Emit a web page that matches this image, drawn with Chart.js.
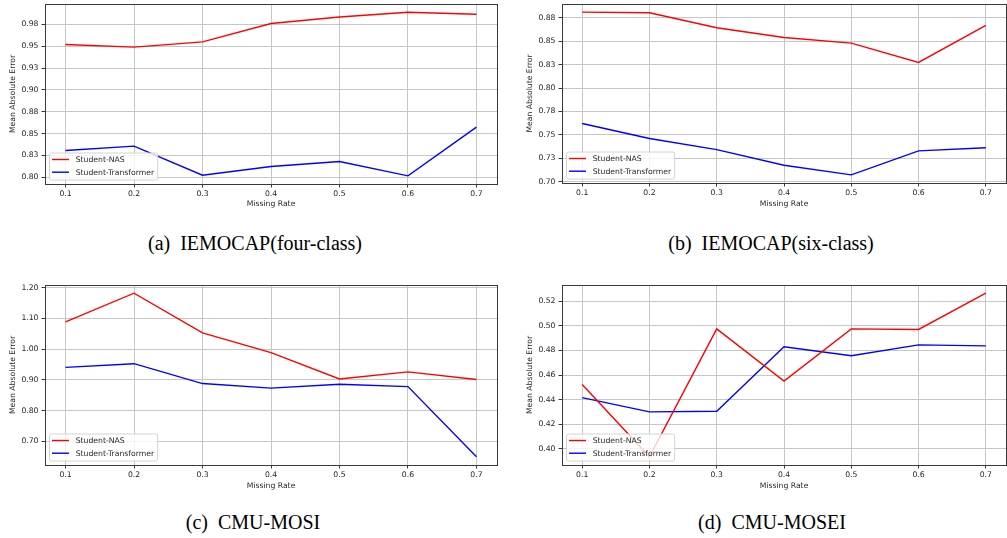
<!DOCTYPE html>
<html>
<head>
<meta charset="utf-8">
<script src="https://cdn.jsdelivr.net/npm/chart.js@4.4.0/dist/chart.umd.min.js"></script>
<style>
  html, body { margin: 0; padding: 0; background: #fff; }
  body { width: 1007px; height: 538px; position: relative; overflow: hidden; }
  canvas { position: absolute; }
  .cap { position: absolute; font-family: 'Liberation Serif', 'Times New Roman', serif; font-size: 20px;
         color: #000; white-space: pre; transform: translate(-50%, -50%); line-height: 1; }
</style>
</head>
<body>
<canvas id="ca"></canvas>
<canvas id="cb"></canvas>
<canvas id="cc"></canvas>
<canvas id="cd"></canvas>
<div class="cap" style="left:255px; top:243px;">(a)  IEMOCAP(four-class)</div>
<div class="cap" style="left:771px; top:243px;">(b)  IEMOCAP(six-class)</div>
<div class="cap" style="left:253px; top:522px;">(c)  CMU-MOSI</div>
<div class="cap" style="left:772px; top:522px;">(d)  CMU-MOSEI</div>
<script>
// ---------- data ----------
const missingRates = [0.1, 0.2, 0.3, 0.4, 0.5, 0.6, 0.7];
const seriesNames = ['Student-NAS', 'Student-Transformer'];

const iemocap4NAS = [0.952, 0.949, 0.955, 0.976, 0.9835, 0.989, 0.9866];
const iemocap4Trans = [0.8306, 0.8356, 0.8023, 0.8123, 0.818, 0.8016, 0.8573];

const iemocap6NAS = [0.881, 0.8803, 0.8644, 0.854, 0.848, 0.8273, 0.8669];
const iemocap6Trans = [0.7622, 0.7462, 0.7343, 0.7176, 0.7074, 0.733, 0.7364];

const mosiNAS = [1.089, 1.182, 1.053, 0.9886, 0.903, 0.926, 0.901];
const mosiTrans = [0.9405, 0.9526, 0.888, 0.873, 0.886, 0.878, 0.6497];

const moseiNAS = [0.4522, 0.3935, 0.4975, 0.455, 0.4975, 0.497, 0.5265];
const moseiTrans = [0.4416, 0.43, 0.4305, 0.483, 0.4757, 0.4845, 0.4837];

// tick values and labels
const xTickVals = [0.1, 0.2, 0.3, 0.4, 0.5, 0.6, 0.7];
const xTickLabels = ['0.1', '0.2', '0.3', '0.4', '0.5', '0.6', '0.7'];

const aTickVals = [0.800, 0.825, 0.850, 0.875, 0.900, 0.925, 0.950, 0.975];
const aTickLabels = ['0.80', '0.83', '0.85', '0.88', '0.90', '0.93', '0.95', '0.98'];
const bTickVals = [0.700, 0.725, 0.750, 0.775, 0.800, 0.825, 0.850, 0.875];
const bTickLabels = ['0.70', '0.73', '0.75', '0.78', '0.80', '0.83', '0.85', '0.88'];
const cTickVals = [0.7, 0.8, 0.9, 1.0, 1.1, 1.2];
const cTickLabels = ['0.70', '0.80', '0.90', '1.00', '1.10', '1.20'];
const dTickVals = [0.40, 0.42, 0.44, 0.46, 0.48, 0.50, 0.52];
const dTickLabels = ['0.40', '0.42', '0.44', '0.46', '0.48', '0.50', '0.52'];

// ---------- layout (page coordinates) ----------
const panels = [
  { id: 'ca', canvas: {x: 0,   y: 0,   w: 503, h: 215}, plot: {l: 45,  t: 4,   r: 497,  b: 184}, yTitleX: 13.3, xTitleY: 204.3,
    nas: iemocap4NAS, trans: iemocap4Trans, yVals: aTickVals, yLabels: aTickLabels },
  { id: 'cb', canvas: {x: 503, y: 0,   w: 504, h: 215}, plot: {l: 562, t: 4,   r: 1006, b: 183}, yTitleX: 530,  xTitleY: 204.3,
    nas: iemocap6NAS, trans: iemocap6Trans, yVals: bTickVals, yLabels: bTickLabels },
  { id: 'cc', canvas: {x: 0,   y: 270, w: 503, h: 222}, plot: {l: 45,  t: 285, r: 497,  b: 465}, yTitleX: 13.3, xTitleY: 486.5,
    nas: mosiNAS, trans: mosiTrans, yVals: cTickVals, yLabels: cTickLabels },
  { id: 'cd', canvas: {x: 503, y: 270, w: 504, h: 222}, plot: {l: 562, t: 285, r: 1006, b: 465}, yTitleX: 530,  xTitleY: 486.5,
    nas: moseiNAS, trans: moseiTrans, yVals: dTickVals, yLabels: dTickLabels },
];

const FONT = 'DejaVu Sans';
const FSIZE = 7.7;
const TEXT = '#262626';
const FRAME = '#3a3a3a';
Chart.defaults.font.family = FONT;
Chart.defaults.font.size = FSIZE;
Chart.defaults.color = TEXT;

const al = v => Math.round(v - 0.5) + 0.5;

const frameAndLegend = {
  id: 'frameAndLegend',
  afterDatasetsDraw(chart) {
    const ctx = chart.ctx;
    const a = chart.chartArea;
    // frame (aligned like Chart.js borders)
    ctx.save();
    ctx.strokeStyle = FRAME;
    ctx.lineWidth = 1;
    const L = al(a.left), T = al(a.top), R = al(a.right), B = al(a.bottom);
    ctx.strokeRect(L, T, R - L, B - T);
    ctx.restore();
    // legend
    ctx.save();
    ctx.font = FSIZE + 'px "' + FONT + '"';
    const ds = chart.data.datasets;
    let tw = 0;
    ds.forEach(d => { tw = Math.max(tw, ctx.measureText(d.label).width); });
    const bx = a.left + 4.5, bh = 27, bw = 2.5 + 17 + 6.7 + tw + 3.5;
    const by = a.bottom - 4 - bh;
    ctx.globalAlpha = 0.8;
    ctx.fillStyle = '#ffffff';
    ctx.beginPath();
    ctx.roundRect(bx, by, bw, bh, 2);
    ctx.fill();
    ctx.globalAlpha = 1;
    ctx.strokeStyle = '#d4d4d4';
    ctx.lineWidth = 1;
    ctx.stroke();
    ds.forEach((d, i) => {
      const y = by + 6.5 + i * 12.7;
      ctx.strokeStyle = d.borderColor;
      ctx.lineWidth = 1.4;
      ctx.beginPath();
      ctx.moveTo(bx + 2.5, y);
      ctx.lineTo(bx + 19.5, y);
      ctx.stroke();
      ctx.fillStyle = TEXT;
      ctx.textBaseline = 'middle';
      ctx.textAlign = 'left';
      ctx.fillText(d.label, bx + 26.2, y + 0.5);
    });
    ctx.restore();
  }
};

function limits(arrs) {
  const all = [].concat(...arrs);
  const mn = Math.min(...all), mx = Math.max(...all);
  const m = (mx - mn) * 0.05;
  return [mn - m, mx + m];
}

panels.forEach(p => {
  const cv = document.getElementById(p.id);
  cv.width = p.canvas.w; cv.height = p.canvas.h;
  cv.style.left = p.canvas.x + 'px'; cv.style.top = p.canvas.y + 'px';
  cv.style.width = p.canvas.w + 'px'; cv.style.height = p.canvas.h + 'px';

  const yAxisW = p.plot.l - p.canvas.x;
  const xAxisH = p.canvas.y + p.canvas.h - p.plot.b;
  const lh = FSIZE * 1.2;
  const yTitlePad = p.yTitleX - p.canvas.x - lh / 2;
  const xTitlePad = p.canvas.y + p.canvas.h - p.xTitleY - lh / 2;
  const [ymin, ymax] = limits([p.nas, p.trans]);
  const [xmin, xmax] = limits([missingRates]);

  new Chart(cv, {
    type: 'line',
    data: {
      datasets: [
        { label: seriesNames[0], data: missingRates.map((x, i) => ({x, y: p.nas[i]})),
          borderColor: '#ff0000', backgroundColor: '#ff0000', borderWidth: 1.4, pointRadius: 0, tension: 0 },
        { label: seriesNames[1], data: missingRates.map((x, i) => ({x, y: p.trans[i]})),
          borderColor: '#0000ff', backgroundColor: '#0000ff', borderWidth: 1.4, pointRadius: 0, tension: 0 },
      ]
    },
    options: {
      responsive: false,
      animation: false,
      devicePixelRatio: 1,
      layout: { padding: { left: 0, bottom: 0, top: p.plot.t - p.canvas.y, right: p.canvas.x + p.canvas.w - p.plot.r } },
      plugins: { legend: { display: false }, tooltip: { enabled: false } },
      scales: {
        x: {
          type: 'linear', min: xmin, max: xmax,
          grid: { color: '#c6c6c6', lineWidth: 1, tickLength: 3.5, tickColor: FRAME, drawOnChartArea: true },
          border: { display: true, color: FRAME, width: 1 },
          ticks: { padding: 2, color: TEXT, font: { size: FSIZE }, maxRotation: 0,
                   callback: (v, i) => xTickLabels[i] },
          title: { display: true, text: 'Missing Rate', color: TEXT, font: { size: FSIZE },
                   padding: { top: 0, bottom: xTitlePad } },
          afterBuildTicks: s => { s.ticks = xTickVals.map(v => ({ value: v })); },
          afterFit: s => { s.height = xAxisH; s.paddingLeft = 0; s.paddingRight = 0; s.paddingTop = 0; s.paddingBottom = 0; }
        },
        y: {
          type: 'linear', min: ymin, max: ymax,
          grid: { color: '#c6c6c6', lineWidth: 1, tickLength: 3.5, tickColor: FRAME },
          border: { display: true, color: FRAME, width: 1 },
          ticks: { padding: 3, color: TEXT, font: { size: FSIZE },
                   callback: (v, i) => p.yLabels[i] },
          title: { display: true, text: 'Mean Absolute Error', color: TEXT, font: { size: FSIZE },
                   padding: { top: yTitlePad, bottom: 0 } },
          afterBuildTicks: s => { s.ticks = p.yVals.map(v => ({ value: v })); },
          afterFit: s => { s.width = yAxisW; s.paddingLeft = 0; s.paddingRight = 0; s.paddingTop = 0; s.paddingBottom = 0; }
        }
      }
    },
    plugins: [frameAndLegend]
  });
});
</script>
</body>
</html>
